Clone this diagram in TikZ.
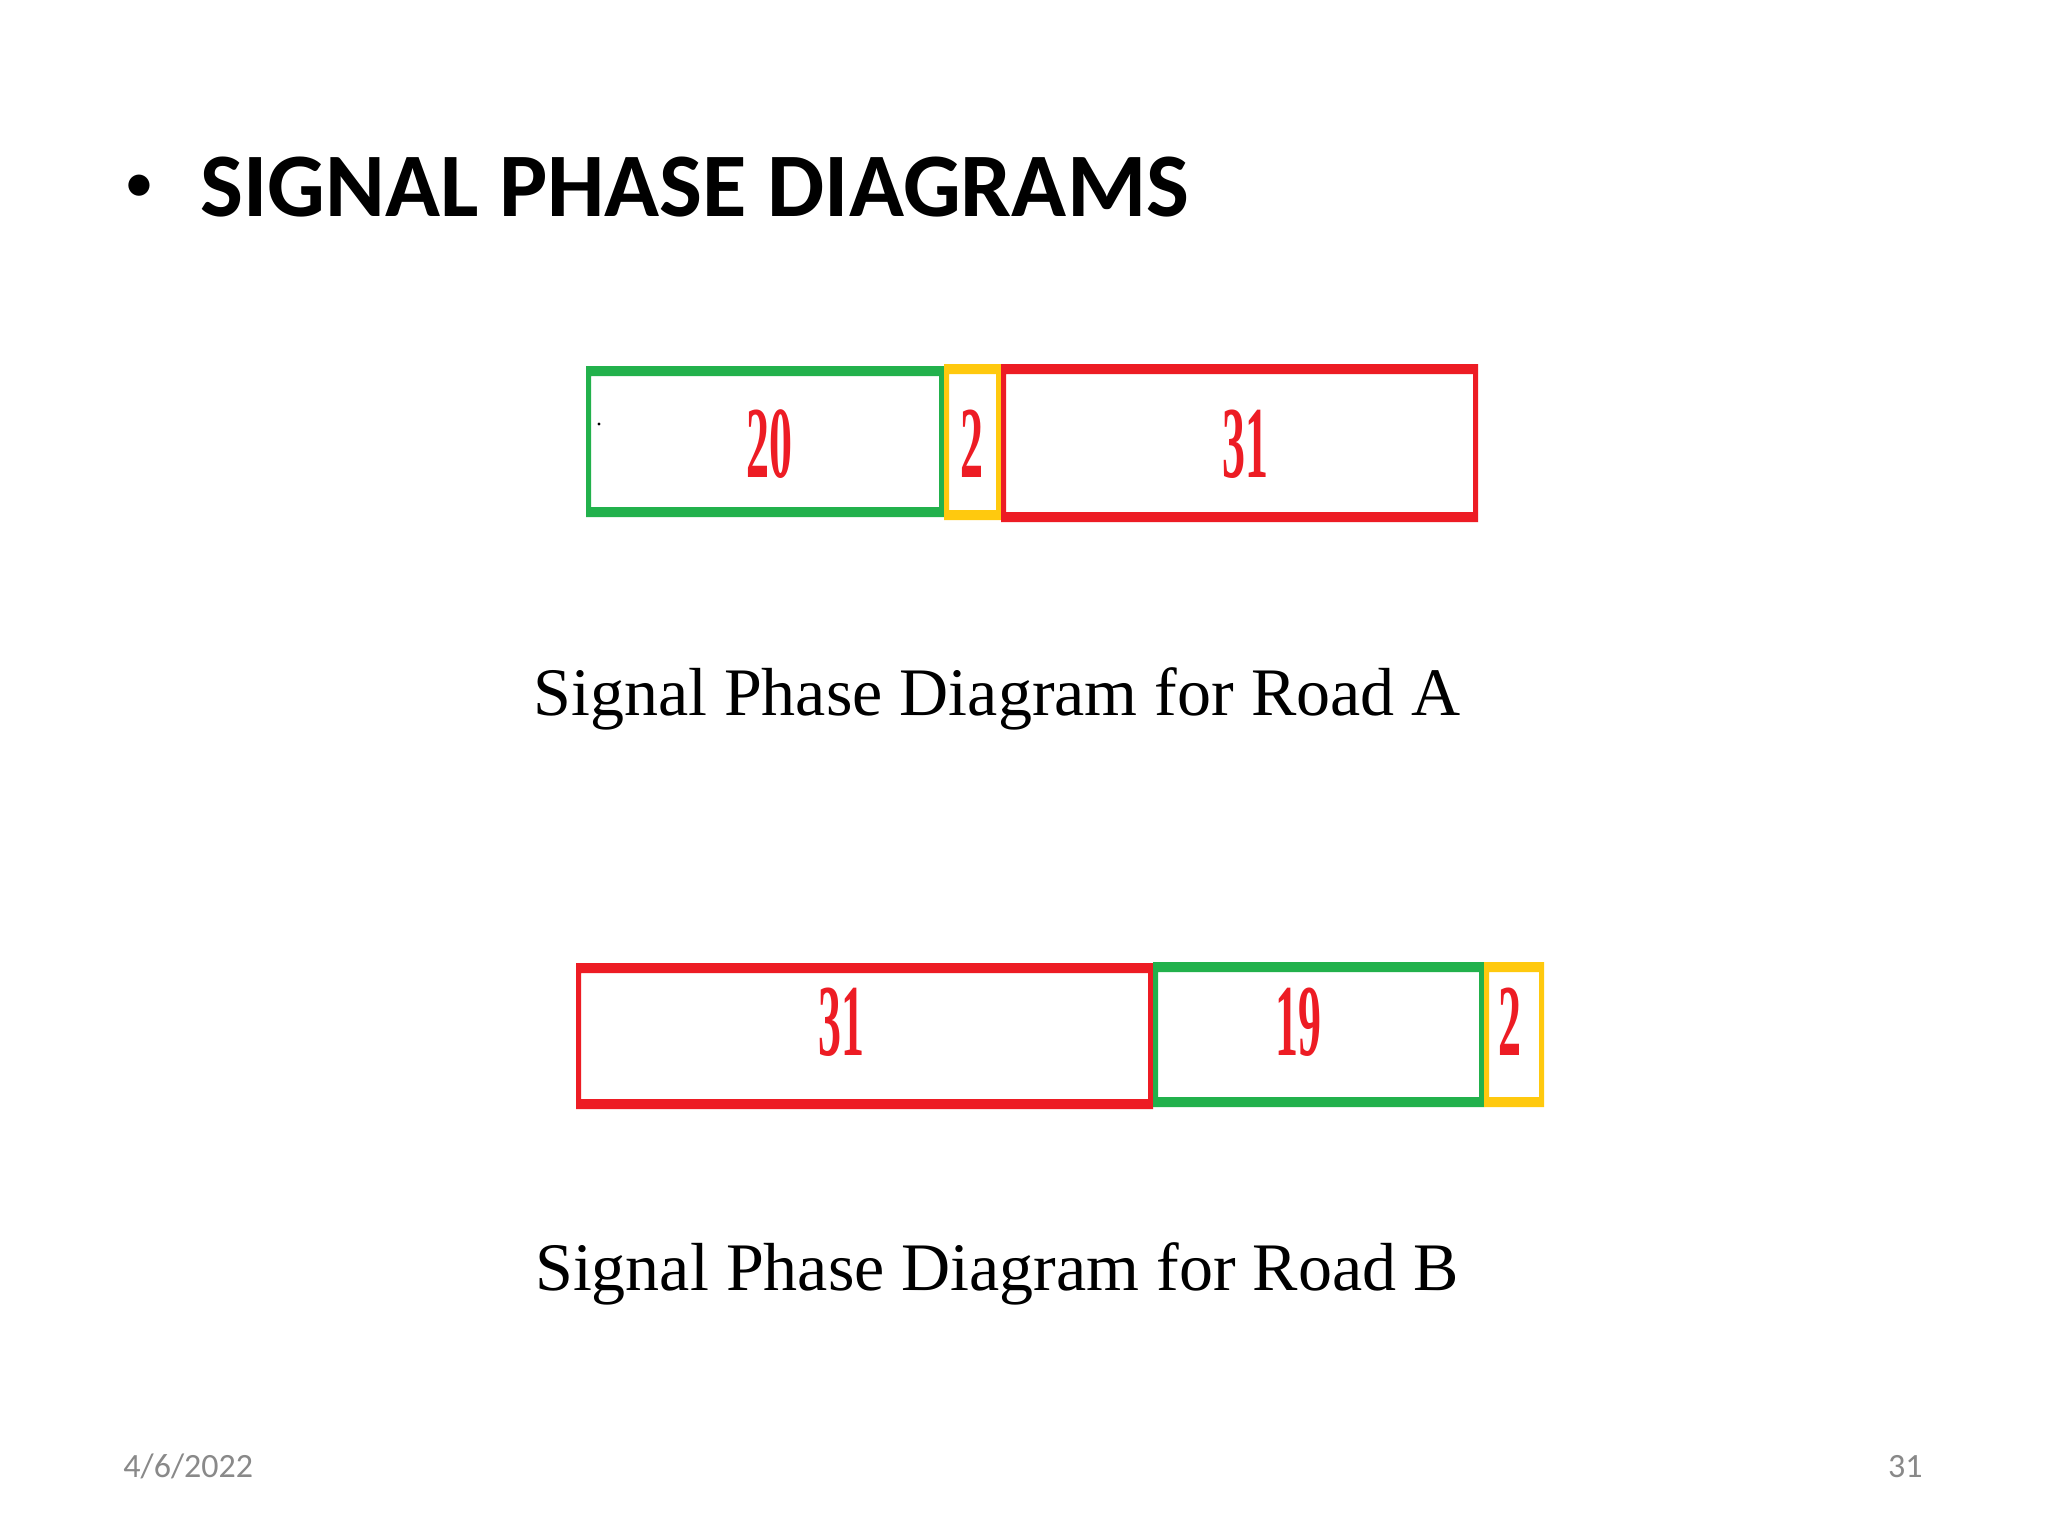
\documentclass[tikz,border=0pt]{standalone}
\usepackage{fontspec}
\usepackage{graphicx}
\setmainfont{Liberation Serif}
\newfontfamily\slidefont{Carlito}
\definecolor{sigred}{HTML}{ED1C24}
\definecolor{siggreen}{HTML}{22B14C}
\definecolor{sigamber}{HTML}{FFC90E}
\definecolor{footgray}{HTML}{898989}

\tikzstyle{heading} = [inner sep=0pt, anchor=base west, font=\slidefont\fontsize{45.4}{54}\selectfont\bfseries]
\tikzstyle{caption} = [inner sep=0pt, anchor=base, font=\fontsize{34}{40}\selectfont]
\tikzstyle{timing} = [inner sep=0pt, anchor=base, text=sigred, font=\fontsize{51}{51}\selectfont\bfseries]
\tikzstyle{footer} = [inner sep=0pt, text=footgray, font=\slidefont\fontsize{17}{20}\selectfont]

\begin{document}
\begin{tikzpicture}[x=0.5pt,y=-0.5pt]
	\useasboundingbox (0,0) rectangle (2048,1536);
	\fill[white] (0,0) rectangle (2048,1536);
	\node[heading, font=\slidefont\fontsize{30}{36}\selectfont] (bullet) at (124,202) {•};
	\node[heading] (title) at (200,216) {SIGNAL PHASE DIAGRAMS};
	% road A
	\foreach \xl/\xr/\yt/\yb/\col/\tx/\val in {586/944/366/517/siggreen/769/20, 944/1001/364/520/sigamber/972/2, 1001/1478/364/522/sigred/1245/31} {
		\fill[\col, even odd rule] (\xl,\yt) rectangle (\xr,\yb) (\xl+5,\yt+10) rectangle (\xr-5,\yb-10);
		\node[timing] (A-\val) at (\tx,477) {\scalebox{0.45}[1]{\val}};
	}
	\fill (599,424) circle (0.8pt);
	\node[caption] (capA) at (997,715) {Signal Phase Diagram for Road A};
	% road B
	\foreach \xl/\xr/\yt/\yb/\col/\tx/\val in {576/1153/963/1109/sigred/841/31, 1153/1484/962/1107/siggreen/1298/19, 1484/1544/962/1107/sigamber/1510/2} {
		\fill[\col, even odd rule] (\xl,\yt) rectangle (\xr,\yb) (\xl+5,\yt+10) rectangle (\xr-5,\yb-10);
		\node[timing] (B-\val) at (\tx,1055) {\scalebox{0.45}[1]{\val}};
	}
	\node[caption] (capB) at (997,1290) {Signal Phase Diagram for Road B};
	% footer
	\node[footer, anchor=base west] (date) at (123,1477) {4/6/2022};
	\node[footer, anchor=base east] (page) at (1923,1477) {31};
\end{tikzpicture}
\end{document}
